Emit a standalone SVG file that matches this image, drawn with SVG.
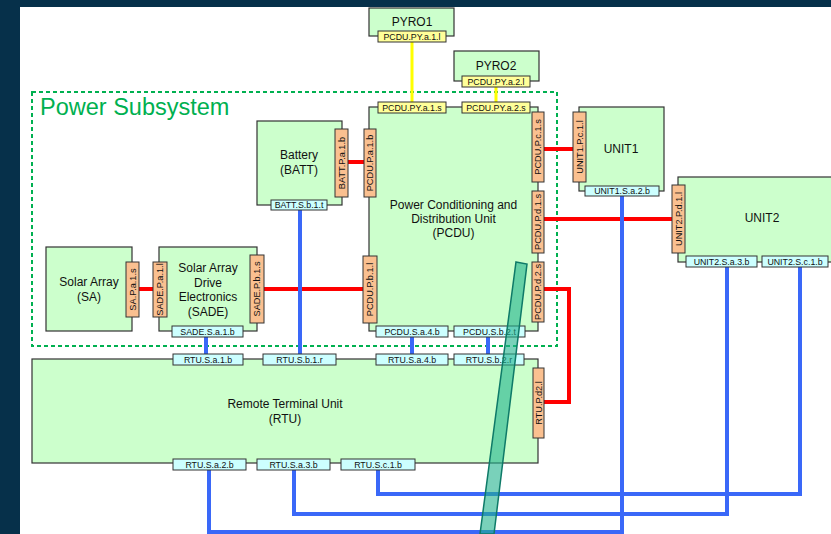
<svg xmlns="http://www.w3.org/2000/svg" width="831" height="534" viewBox="0 0 831 534">
<style>
.box{fill:#ccffcc;stroke:#333;stroke-width:1.2}
.po{fill:#fac090;stroke:#333;stroke-width:1}
.ps{fill:#ccffff;stroke:#333;stroke-width:1}
.py{fill:#ffff99;stroke:#333;stroke-width:1}
text{font-family:"Liberation Sans",Arial,sans-serif;fill:#111;text-anchor:middle}
.t{font-size:12px}
.h{font-size:8.8px}
.v{font-size:9.2px}
.y{stroke:#ffff00;stroke-width:3;fill:none}
.r{stroke:#ff0000;stroke-width:4;fill:none}
.b{stroke:#3a68f8;stroke-width:4;fill:none}
</style>
<rect x="0" y="0" width="831" height="534" fill="#06304a"/>
<rect x="20" y="7" width="811" height="527" fill="#ffffff"/>
<g id="power-subsystem">
<rect x="32" y="92" width="525" height="254" fill="none" stroke="#00b050" stroke-width="2" stroke-dasharray="4 3"/>
<text x="40" y="115" style="font-size:23.5px;fill:#00b050;text-anchor:start">Power Subsystem</text>
</g>
<g id="connectors">
<path class="y" d="M412 42V102M496 86V102"/>
<path class="r" d="M348 162H364M139 289H153M264 289H363M544 149H573M544 219H672M544 289H569V402H544"/>
<path class="b" d="M206 337V354M300 210V354M412 337V354M488 337V354M209 470V532H622V196M294 470V514H727V267M378 470V494H800V267"/>
</g>
<g id="pyro1">
<rect class="box" x="369" y="8" width="85" height="28"/>
<text class="t" x="412" y="26">PYRO1</text>
<rect class="py" x="378" y="31" width="68" height="11"/>
<text class="h" x="412" y="39.6">PCDU.PY.a.1.l</text>
</g>
<g id="pyro2">
<rect class="box" x="454" y="51" width="85" height="30"/>
<text class="t" x="496" y="70">PYRO2</text>
<rect class="py" x="462" y="76" width="68" height="11"/>
<text class="h" x="496" y="84.6">PCDU.PY.a.2.l</text>
</g>
<g id="pcdu">
<rect class="box" x="369" y="107" width="169" height="224"/>
<text class="t" x="453.5" y="209">Power Conditioning and</text>
<text class="t" x="453.5" y="223">Distribution Unit</text>
<text class="t" x="453.5" y="237">(PCDU)</text>
<rect class="py" x="378" y="102" width="68" height="11"/>
<text class="h" x="412" y="110.6">PCDU.PY.a.1.s</text>
<rect class="py" x="462" y="102" width="68" height="11"/>
<text class="h" x="496" y="110.6">PCDU.PY.a.2.s</text>
<rect class="po" x="364" y="129" width="12" height="68"/>
<text class="v" x="370" y="163" transform="rotate(-90 370 163)" dy="3.2">PCDU.P.a.1.b</text>
<rect class="po" x="363" y="256" width="14" height="67"/>
<text class="v" x="370" y="289.5" transform="rotate(-90 370 289.5)" dy="3.2">PCDU.P.b.1.l</text>
<rect class="po" x="532" y="112" width="12" height="70"/>
<text class="v" x="538" y="147" transform="rotate(-90 538 147)" dy="3.2">PCDU.P.c.1.s</text>
<rect class="po" x="532" y="191" width="12" height="62"/>
<text class="v" x="538" y="222" transform="rotate(-90 538 222)" dy="3.2">PCDU.P.d.1.s</text>
<rect class="po" x="532" y="262" width="12" height="60"/>
<text class="v" x="538" y="292" transform="rotate(-90 538 292)" dy="3.2">PCDU.P.d.2.s</text>
<rect class="ps" x="376" y="326" width="72" height="11"/>
<text class="h" x="412" y="334.6">PCDU.S.a.4.b</text>
<rect class="ps" x="454" y="326" width="71" height="11"/>
<text class="h" x="489.5" y="334.6">PCDU.S.b.2.t</text>
</g>
<g id="battery">
<rect class="box" x="257" y="121" width="85" height="84"/>
<text class="t" x="299" y="159">Battery</text>
<text class="t" x="299" y="174">(BATT)</text>
<rect class="po" x="335" y="129" width="13" height="68"/>
<text class="v" x="341.5" y="163" transform="rotate(-90 341.5 163)" dy="3.2">BATT.P.a.1.b</text>
<rect class="ps" x="271" y="200" width="56" height="10"/>
<text class="h" x="299" y="208.2">BATT.S.b.1.t</text>
</g>
<g id="solar-array">
<rect class="box" x="46" y="247" width="86" height="84"/>
<text class="t" x="89" y="286">Solar Array</text>
<text class="t" x="89" y="301">(SA)</text>
<rect class="po" x="126" y="262" width="13" height="55"/>
<text class="v" x="132.5" y="289.5" transform="rotate(-90 132.5 289.5)" dy="3.2">SA.P.a.1.s</text>
</g>
<g id="sade">
<rect class="box" x="159" y="247" width="98" height="84"/>
<text class="t" x="208" y="272">Solar Array</text>
<text class="t" x="208" y="286.5">Drive</text>
<text class="t" x="208" y="301">Electronics</text>
<text class="t" x="208" y="315.5">(SADE)</text>
<rect class="po" x="153" y="262" width="14" height="55"/>
<text class="v" x="160" y="289.5" transform="rotate(-90 160 289.5)" dy="3.2">SADE.P.a.1.l</text>
<rect class="po" x="250" y="255" width="14" height="68"/>
<text class="v" x="257" y="289" transform="rotate(-90 257 289)" dy="3.2">SADE.P.b.1.s</text>
<rect class="ps" x="172" y="326" width="71" height="11"/>
<text class="h" x="207.5" y="334.6">SADE.S.a.1.b</text>
</g>
<g id="rtu">
<rect class="box" x="32" y="359" width="506" height="104"/>
<text class="t" x="285" y="408">Remote Terminal Unit</text>
<text class="t" x="285" y="423">(RTU)</text>
<rect class="ps" x="173" y="354" width="70" height="11"/>
<text class="h" x="208" y="362.6">RTU.S.a.1.b</text>
<rect class="ps" x="263" y="354" width="73" height="11"/>
<text class="h" x="299.5" y="362.6">RTU.S.b.1.r</text>
<rect class="ps" x="376" y="354" width="72" height="11"/>
<text class="h" x="412" y="362.6">RTU.S.a.4.b</text>
<rect class="ps" x="454" y="354" width="70" height="11"/>
<text class="h" x="489" y="362.6">RTU.S.b.2.r</text>
<rect class="po" x="533" y="368" width="11" height="70"/>
<text class="v" x="538.5" y="403" transform="rotate(-90 538.5 403)" dy="3.2">RTU.P.d2.l</text>
<rect class="ps" x="173" y="459" width="73" height="11"/>
<text class="h" x="209.5" y="467.6">RTU.S.a.2.b</text>
<rect class="ps" x="257" y="459" width="73" height="11"/>
<text class="h" x="293.5" y="467.6">RTU.S.a.3.b</text>
<rect class="ps" x="341" y="459" width="74" height="11"/>
<text class="h" x="378" y="467.6">RTU.S.c.1.b</text>
</g>
<g id="unit1">
<rect class="box" x="579" y="107" width="85" height="84"/>
<text class="t" x="621" y="153">UNIT1</text>
<rect class="po" x="573" y="112" width="13" height="70"/>
<text class="v" x="579.5" y="147" transform="rotate(-90 579.5 147)" dy="3.2">UNIT1.P.c.1.l</text>
<rect class="ps" x="585" y="186" width="74" height="10"/>
<text class="h" x="622" y="194.2">UNIT1.S.a.2.b</text>
</g>
<g id="unit2">
<rect class="box" x="678" y="177" width="160" height="85"/>
<text class="t" x="762" y="222">UNIT2</text>
<rect class="po" x="672" y="185" width="13" height="68"/>
<text class="v" x="678.5" y="219" transform="rotate(-90 678.5 219)" dy="3.2">UNIT2.P.d.1.l</text>
<rect class="ps" x="686" y="256" width="71" height="11"/>
<text class="h" x="721.5" y="264.6">UNIT2.S.a.3.b</text>
<rect class="ps" x="762" y="256" width="66" height="11"/>
<text class="h" x="795" y="264.6">UNIT2.S.c.1.b</text>
</g>
<g id="overlay-bar">
<polygon points="516,262 527,264 494,534 480,534" fill="#20b28c" fill-opacity="0.6" stroke="#0e7a68" stroke-width="1.5"/>
</g>
</svg>
